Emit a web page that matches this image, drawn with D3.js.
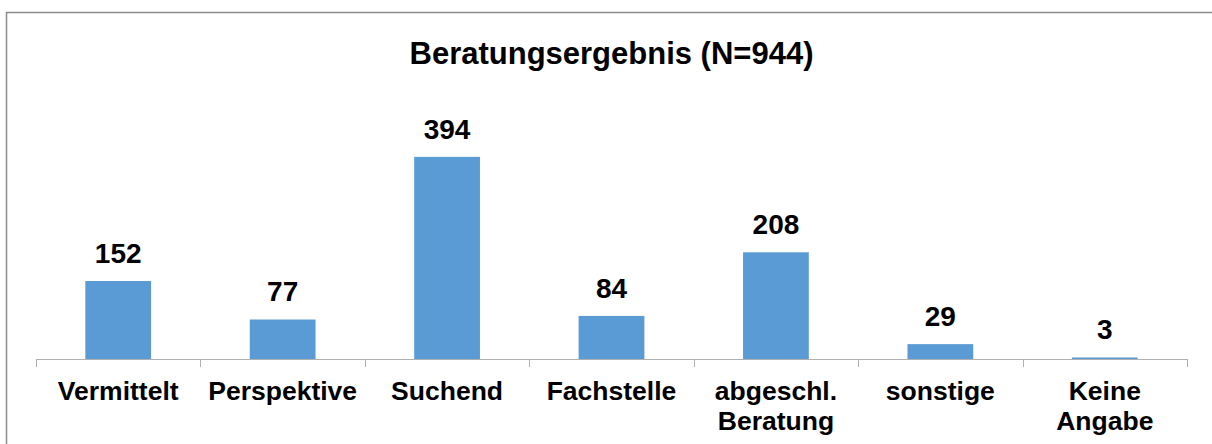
<!DOCTYPE html>
<html>
<head>
<meta charset="utf-8">
<script src="https://cdn.jsdelivr.net/npm/d3@7"></script>
<style>
  body { margin: 0; background: #fff; }
  text { font-family: "Liberation Sans", Arial, sans-serif; font-weight: bold; fill: #000; }
</style>
</head>
<body>
<svg id="chart" width="1212" height="444"></svg>
<script>
const title = "Beratungsergebnis (N=944)";
const categories = ["Vermittelt", "Perspektive", "Suchend", "Fachstelle", "abgeschl. Beratung", "sonstige", "Keine Angabe"];
const labelLines = [["Vermittelt"], ["Perspektive"], ["Suchend"], ["Fachstelle"], ["abgeschl.", "Beratung"], ["sonstige"], ["Keine", "Angabe"]];
const values = [152, 77, 394, 84, 208, 29, 3];

const width = 1212;
const height = 444;
const left = 36, right = 1187;
const baseline = 359;

const svg = d3.select("#chart");

// Frame
svg.append("rect")
  .attr("x", 6.5)
  .attr("y", 12.5)
  .attr("width", width + 20)
  .attr("height", height + 20)
  .attr("fill", "none")
  .attr("stroke", "#8c8c8c")
  .attr("stroke-width", 1.5);

const x = d3.scaleBand().domain(categories).range([left, right]).paddingInner(0.6).paddingOuter(0.3);
const xCat = d3.scaleBand().domain(categories).range([left, right]).padding(0);
const y = d3.scaleLinear().domain([0, 450]).range([baseline, baseline - 450 * 0.513]);

// Title
svg.append("text")
  .attr("x", 611.5)
  .attr("y", 64)
  .attr("text-anchor", "middle")
  .style("font-size", "31px")
  .text(title);

// Bars
svg.append("g")
  .selectAll("rect")
  .data(values)
  .join("rect")
  .attr("x", (d, i) => x(categories[i]))
  .attr("y", d => y(d))
  .attr("width", x.bandwidth())
  .attr("height", d => baseline - y(d))
  .attr("fill", "#5b9bd5");

// Value labels
svg.append("g")
  .selectAll("text")
  .data(values)
  .join("text")
  .attr("x", (d, i) => x(categories[i]) + x.bandwidth() / 2)
  .attr("y", d => y(d) - 18)
  .attr("text-anchor", "middle")
  .style("font-size", "28px")
  .text(d => d);

// Axis line and category boundary ticks
const axis = svg.append("g");
axis.append("line")
  .attr("x1", left).attr("x2", right)
  .attr("y1", baseline + 0.5).attr("y2", baseline + 0.5)
  .attr("stroke", "#b0b0b0");
axis.selectAll(".tick")
  .data(categories.map(c => xCat(c)).concat([right]))
  .join("line")
  .attr("class", "tick")
  .attr("x1", d => Math.round(d) + 0.5).attr("x2", d => Math.round(d) + 0.5)
  .attr("y1", baseline).attr("y2", baseline + 8)
  .attr("stroke", "#b0b0b0");

// Category labels
const labels = svg.append("g")
  .selectAll("text")
  .data(labelLines)
  .join("text")
  .attr("text-anchor", "middle")
  .style("font-size", "26.5px")
  .attr("transform", (d, i) => `translate(${x(categories[i]) + x.bandwidth() / 2},400)`);
labels.selectAll("tspan")
  .data(d => d)
  .join("tspan")
  .attr("x", 0)
  .attr("y", (d, j) => j * 30)
  .text(d => d);
</script>
</body>
</html>
